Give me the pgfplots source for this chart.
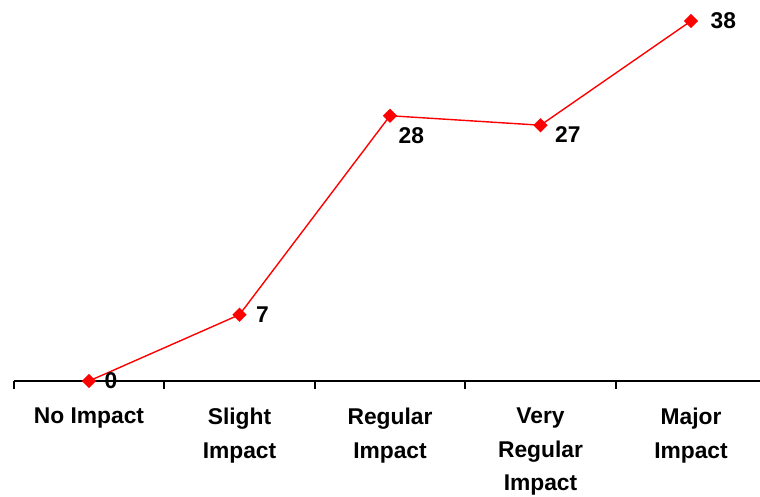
\documentclass[border=0pt]{standalone}
\usepackage{pgfplots}
\usepackage{pgfplotstable}
\pgfplotsset{compat=1.18}
\usepackage{fontspec}
\setmainfont{Liberation Sans}

% category index, count, label offsets (x, y)
\pgfplotstableread{
x y dx dy
0 0 15 0
1 7 16 0
2 28 8 -20
3 27 14 -9
4 38 19 0
}\impact

\begin{document}
\begin{tikzpicture}
\useasboundingbox (0,0) rectangle (760pt,497pt);
\begin{axis}[
  at={(13.75pt,116pt)}, anchor=south west,
  scale only axis, width=752.5pt, height=360pt,
  xmin=-0.5, xmax=4.5, ymin=0, ymax=38,
  axis x line*=bottom, axis y line=none,
  clip=false,
  axis line style={line width=1.4pt, black},
  xtick={0,...,4},
  xticklabels={No Impact,{Slight\\Impact},{Regular\\Impact},{Very\\Regular\\Impact},{Major\\Impact}},
  major tick length=0pt,
  minor xtick={-0.5,0.5,1.5,2.5,3.5,4.5},
  minor tick length=8pt,
  tick align=outside,
  minor tick style={line width=1.6pt, black},
  ytick=\empty,
  /pgf/number format/assume math mode=true,
  x tick label style={font=\fontsize{22.8}{33.5}\selectfont\bfseries, align=center, anchor=north, inner sep=0pt, yshift=-27pt},
]
\addplot[red, line width=1.4pt, mark=square*, mark size=4.3pt,
  mark options={rotate=45, fill=red},
  point meta=\thisrow{y},
  visualization depends on={\thisrow{dx} \as \dx},
  visualization depends on={\thisrow{dy} \as \dy},
  nodes near coords={\pgfmathprintnumber[assume math mode=true]{\pgfplotspointmeta}},
  nodes near coords style={anchor=west, inner sep=0pt, xshift=\dx pt, yshift=\dy pt, text=black, font=\fontsize{22.8}{26}\selectfont\bfseries},
] table[x=x, y=y] {\impact};
\end{axis}
\end{tikzpicture}
\end{document}
